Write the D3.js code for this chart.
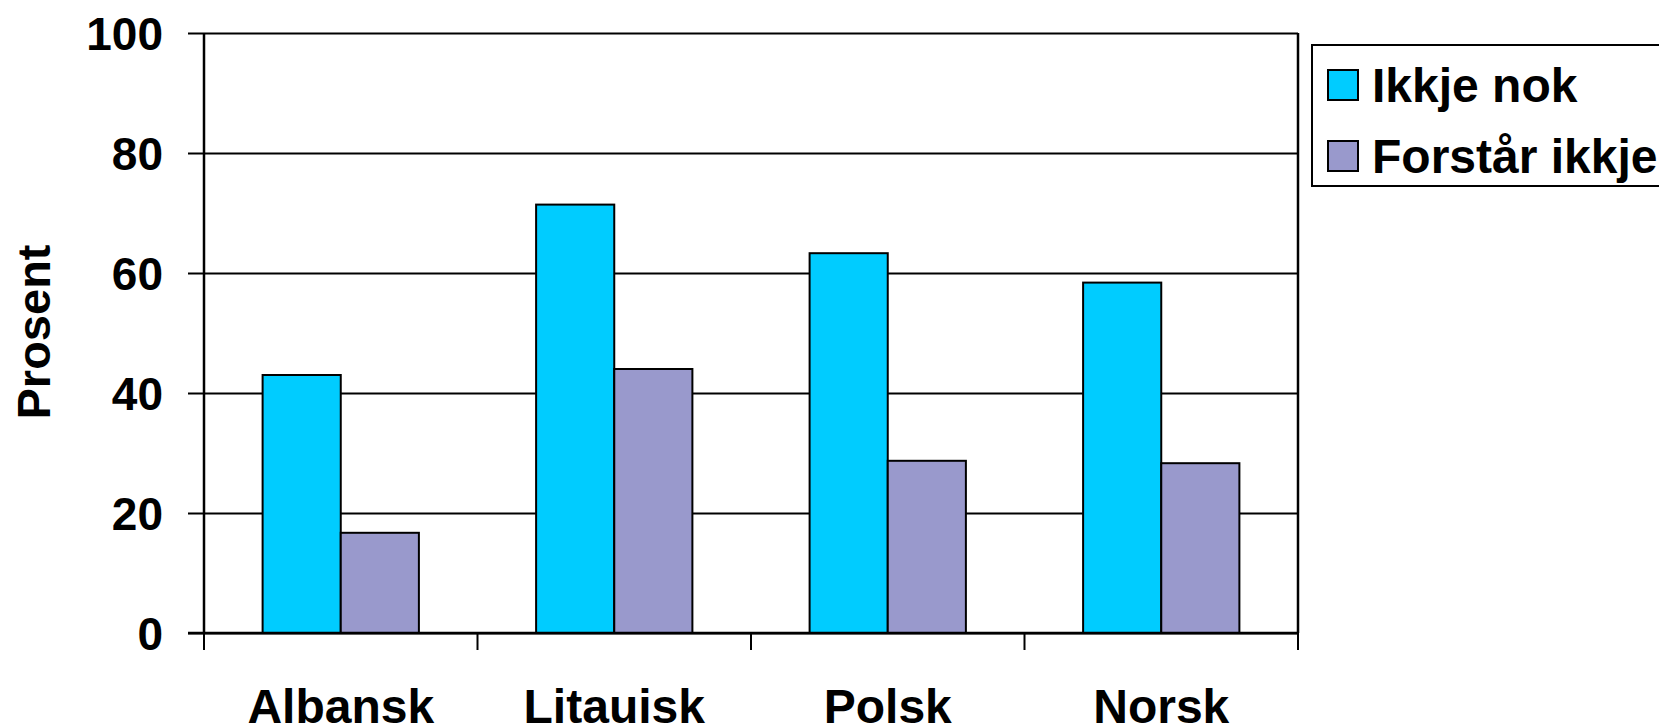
<!DOCTYPE html>
<html>
<head>
<meta charset="utf-8">
<script src="https://cdn.jsdelivr.net/npm/d3@7"></script>
<style>
  html, body { margin: 0; padding: 0; background: #fff; }
  svg { display: block; }
  text { font-family: "Liberation Sans", Arial, sans-serif; font-weight: bold; fill: #000; }
</style>
</head>
<body>
<svg id="chart" width="1659" height="727"></svg>
<script>
const categories = ["Albansk", "Litauisk", "Polsk", "Norsk"];
const seriesNames = ["Ikkje nok", "Forstår ikkje"];
const ikkjeNok = [43.0, 71.4, 63.3, 58.4];
const forstarIkkje = [16.7, 44.0, 28.7, 28.3];
const yTicks = [0, 20, 40, 60, 80, 100];
const colors = ["#00CCFF", "#9999CC"];
const seriesValues = [ikkjeNok, forstarIkkje];

(function () {
const svg = d3.select("#chart");
const pL = 204, pR = 1298, pT = 33, pB = 633;

const y = d3.scaleLinear().domain([0, 100]).range([pB, pT]);
const x0 = d3.scaleBand().domain(categories).range([pL, pR]).padding(0);
const step = x0.bandwidth();
const barW = step / 3.5;
const x1 = d3.scaleBand().domain(seriesNames)
  .range([barW * 0.75, step - barW * 0.75]).padding(0);

// Gridlines + y ticks (axis)
const yAxis = d3.axisLeft(y).tickValues(yTicks)
  .tickSizeInner(-(pR - pL)).tickSizeOuter(0).tickFormat("");
const gy = svg.append("g").attr("transform", `translate(${pL},0)`).call(yAxis);
gy.select(".domain").remove();
gy.selectAll(".tick line").attr("stroke", "#000").attr("stroke-width", 2).attr("x1", -16);

// Y tick labels
svg.append("g").selectAll("text").data(yTicks).join("text")
  .attr("x", 163).attr("y", d => y(d))
  .attr("dy", "0.36em")
  .attr("text-anchor", "end")
  .attr("font-size", 46)
  .text(d => d);

// Bars
const groups = svg.append("g").selectAll("g").data(categories).join("g")
  .attr("transform", c => `translate(${x0(c)},0)`);
groups.selectAll("rect")
  .data((c, i) => seriesNames.map((s, j) => ({ s, v: seriesValues[j][i], j })))
  .join("rect")
  .attr("x", d => x1(d.s))
  .attr("width", x1.bandwidth())
  .attr("y", d => y(d.v))
  .attr("height", d => y(0) - y(d.v))
  .attr("fill", d => colors[d.j])
  .attr("stroke", "#000")
  .attr("stroke-width", 2);

// Plot border lines: left axis, right border
svg.append("line").attr("x1", pL).attr("x2", pL).attr("y1", pT).attr("y2", pB)
  .attr("stroke", "#000").attr("stroke-width", 2.5);
svg.append("line").attr("x1", pR).attr("x2", pR).attr("y1", pT).attr("y2", pB)
  .attr("stroke", "#000").attr("stroke-width", 2.5);

// X axis
const xAxis = d3.axisBottom(x0).tickSize(0).tickFormat("");
const gx = svg.append("g").attr("transform", `translate(0,${pB})`).call(xAxis);
gx.select(".domain").attr("stroke", "#000").attr("stroke-width", 2.5)
  .attr("d", `M${pL - 16},0H${pR}`);
gx.selectAll(".tick").remove();
const boundaries = categories.map(c => x0(c)).concat([pR]);
svg.append("g").selectAll("line").data(boundaries).join("line")
  .attr("x1", d => d).attr("x2", d => d)
  .attr("y1", pB).attr("y2", pB + 17)
  .attr("stroke", "#000").attr("stroke-width", 2);

// Category labels
svg.append("g").selectAll("text").data(categories).join("text")
  .attr("x", c => x0(c) + step / 2)
  .attr("y", 723)
  .attr("text-anchor", "middle")
  .attr("font-size", 48)
  .text(c => c);

// Y axis title
svg.append("text")
  .attr("transform", "translate(50,332) rotate(-90)")
  .attr("text-anchor", "middle")
  .attr("font-size", 47)
  .text("Prosent");

// Legend
const lg = svg.append("g");
lg.append("rect").attr("x", 1312).attr("y", 45).attr("width", 420).attr("height", 141)
  .attr("fill", "#fff").attr("stroke", "#000").attr("stroke-width", 2);
const ly = [70, 141];
lg.selectAll("rect.sw").data(seriesNames).join("rect").attr("class", "sw")
  .attr("x", 1328).attr("y", (d, i) => ly[i])
  .attr("width", 30).attr("height", 30)
  .attr("fill", (d, i) => colors[i])
  .attr("stroke", "#000").attr("stroke-width", 2);
lg.selectAll("text").data(seriesNames).join("text")
  .attr("x", 1372).attr("y", (d, i) => ly[i] + 32)
  .attr("font-size", 48)
  .text(d => d);
})();
</script>
</body>
</html>
